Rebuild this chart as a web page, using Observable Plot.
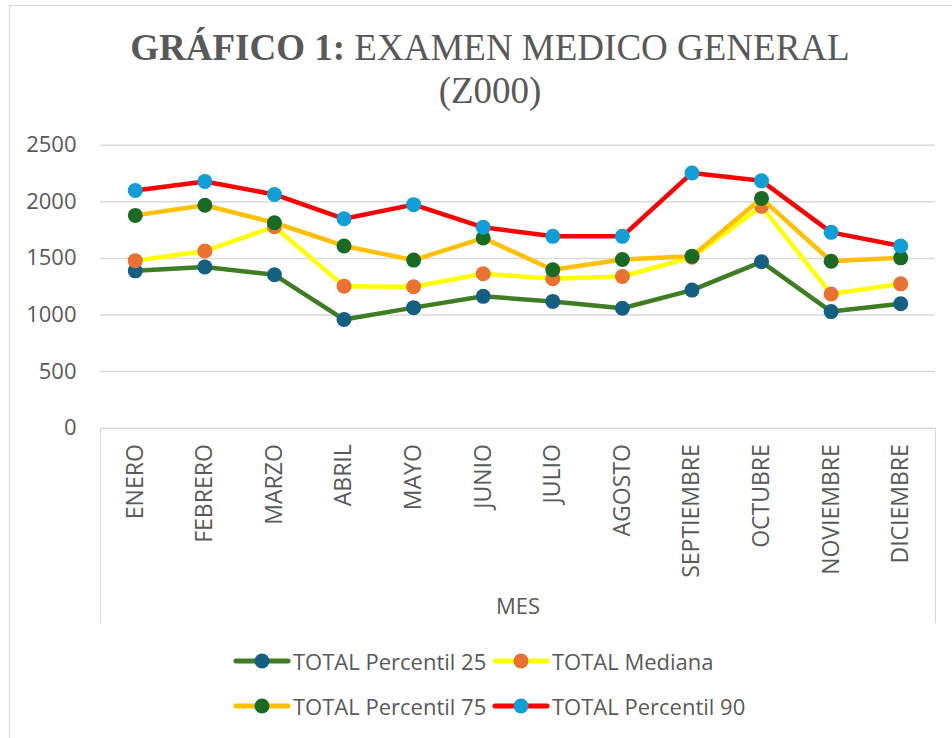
<!DOCTYPE html>
<html>
<head>
<meta charset="utf-8">
<script src="https://cdn.jsdelivr.net/npm/d3@7"></script>
<script src="https://cdn.jsdelivr.net/npm/@observablehq/plot@0.6"></script>
<style>
  html, body { margin: 0; padding: 0; background: #fff; overflow: hidden; }
  #page { position: relative; width: 952px; height: 738px; overflow: hidden; font-family: "Open Sans", sans-serif; color: #595959; }
  #border { position: absolute; left: 9px; top: 5px; width: 1000px; height: 800px; border: 1.5px solid #d9d9d9; box-sizing: border-box; }
  #title { position: absolute; left: 0; width: 980px; top: 26px; text-align: center; font-family: "Liberation Serif", "Times New Roman", serif; font-size: 37px; line-height: 43px; color: #595959; }
  #title b { font-weight: bold; }
  #chart { position: absolute; left: 0; top: 130px; }
  .vline { position: absolute; width: 0; border-left: 1.5px solid #d9d9d9; top: 428px; height: 195px; }
  #legend { position: absolute; left: 233px; top: 638px; font-size: 22px; }
  .row { display: flex; height: 45px; align-items: center; }
  .item { display: flex; align-items: center; width: 259px; white-space: nowrap; }
  .item svg { margin-right: 2px; }
</style>
</head>
<body>
<div id="page">
  <div id="border"></div>
  <div id="title"><b>GRÁFICO 1:</b> EXAMEN MEDICO GENERAL<br>(Z000)</div>
  <div class="vline" style="left:99.5px"></div>
  <div class="vline" style="left:934.5px"></div>
  <div id="chart"></div>
  <div id="legend"></div>
</div>
<script>
const months = ["ENERO","FEBRERO","MARZO","ABRIL","MAYO","JUNIO","JULIO","AGOSTO","SEPTIEMBRE","OCTUBRE","NOVIEMBRE","DICIEMBRE"];
const p25     = [1390, 1425, 1355, 960, 1065, 1165, 1120, 1060, 1220, 1470, 1030, 1100];
const mediana = [1480, 1565, 1780, 1255, 1250, 1365, 1320, 1340, 1510, 1960, 1185, 1275];
const p75     = [1880, 1970, 1815, 1610, 1485, 1680, 1400, 1490, 1520, 2030, 1475, 1505];
const p90     = [2100, 2180, 2065, 1850, 1975, 1775, 1695, 1695, 2255, 2185, 1730, 1610];
const yTicks  = [0, 500, 1000, 1500, 2000, 2500];
const seriesNames = ["TOTAL Percentil 25", "TOTAL Mediana", "TOTAL Percentil 75", "TOTAL Percentil 90"];
const lineColors  = ["#3e7d22", "#ffff00", "#ffc000", "#ff0000"];
const dotColors   = ["#156082", "#e97132", "#196b24", "#0f9ed5"];

const seriesValues = [p25, mediana, p75, p90];
const seriesData = seriesValues.map((vals, i) => months.map((m, j) => ({mes: m, value: vals[j], serie: seriesNames[i]})));

const marks = [
  Plot.ruleY(yTicks, {stroke: "#d9d9d9", strokeWidth: 1.5}),
  Plot.axisY({ticks: yTicks, tickFormat: d => String(d), tickSize: 0, tickPadding: 24, label: null, fontSize: 22}),
  Plot.axisX({tickSize: 0, tickRotate: -90, tickPadding: 16, label: null, fontSize: 23}),
  Plot.axisX({tickSize: 0, ticks: [], label: "MES", labelAnchor: "center", labelOffset: 186, fontSize: 22})
];
seriesData.forEach((d, i) => {
  marks.push(Plot.line(d, {x: "mes", y: "value", stroke: lineColors[i], strokeWidth: 4.5, strokeLinejoin: "round", strokeLinecap: "round"}));
  marks.push(Plot.dot(d, {x: "mes", y: "value", r: 7.5, fill: dotColors[i], stroke: "none"}));
});

const chart = Plot.plot({
  width: 952,
  height: 500,
  marginLeft: 100,
  marginRight: 17,
  marginTop: 14.7,
  marginBottom: 202.3,
  x: {type: "point", domain: months, padding: 0.5, round: false},
  y: {domain: [0, 2500]},
  style: {fontFamily: "'Open Sans', sans-serif", fontSize: "22px", color: "#595959", background: "transparent", overflow: "visible"},
  marks
});
document.getElementById("chart").appendChild(chart);

const legend = document.getElementById("legend");
const order = [[0, 1], [2, 3]];
order.forEach(row => {
  const r = document.createElement("div");
  r.className = "row";
  row.forEach(i => {
    const it = document.createElement("div");
    it.className = "item";
    it.innerHTML = `<svg width="58" height="18"><line x1="3" y1="9" x2="55" y2="9" stroke="${lineColors[i]}" stroke-width="5" stroke-linecap="round"/><circle cx="29" cy="9" r="7.5" fill="${dotColors[i]}"/></svg><span>${seriesNames[i]}</span>`;
    r.appendChild(it);
  });
  legend.appendChild(r);
});
</script>
</body>
</html>
